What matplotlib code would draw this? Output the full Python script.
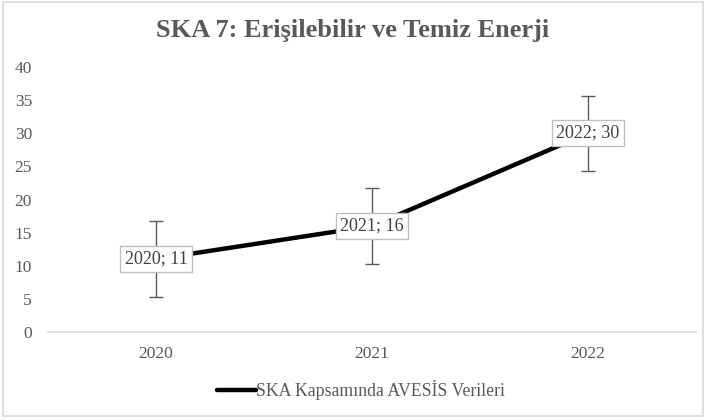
import matplotlib
matplotlib.use("Agg")
import matplotlib.pyplot as plt
from matplotlib.patches import Rectangle

years = ["2020", "2021", "2022"]
values = [11, 16, 30]
errors = [5.69, 5.69, 5.69]
yticks = [0, 5, 10, 15, 20, 25, 30, 35, 40]
title = "SKA 7: Erişilebilir ve Temiz Enerji"
series_name = "SKA Kapsamında AVESİS Verileri"

plt.rcParams['font.family'] = ['Liberation Serif', 'DejaVu Serif']
gray = '#595959'

fig = plt.figure(figsize=(7.06, 4.20), dpi=100)
ax = fig.add_axes([48/706, 88/420, 648/706, 265/420])

x = list(range(len(years)))
ax.errorbar(x, values, yerr=errors, fmt='none', ecolor='#5a5a5a', elinewidth=1.0,
            capsize=5, capthick=1.0, zorder=2)
ax.plot(x, values, color='black', lw=3.2, solid_capstyle='round', zorder=3,
        label=series_name)

for xi, yr, v in zip(x, years, values):
    ax.text(xi, v, f"{yr}; {v}", ha='center', va='center', fontsize=13, color='#404040',
            zorder=5,
            bbox=dict(boxstyle='square,pad=0.25', fc='white', ec='#bfbfbf', lw=1))

ax.set_xlim(-0.5, len(years) - 0.5)
ax.set_ylim(0, 40)
ax.set_xticks(x)
ax.set_xticklabels(years)
ax.set_yticks(yticks)
ax.tick_params(axis='both', length=0, labelsize=12.5, labelcolor=gray)
ax.tick_params(axis='y', pad=11.5)
ax.tick_params(axis='x', pad=10)
for s in ['top', 'right', 'left']:
    ax.spines[s].set_visible(False)
ax.spines['bottom'].set_color('#d9d9d9')
ax.spines['bottom'].set_linewidth(1.2)

fig.text(0.5, 1 - 37/420, title, ha='center', va='baseline', fontsize=19,
         fontweight='bold', color=gray)

leg = fig.legend(loc='center', bbox_to_anchor=(361/706, 1 - 390/420), frameon=False,
                 fontsize=12.8, handlelength=2.2, handletextpad=0.0, labelcolor=gray)

fig.patches.append(Rectangle((3/706, 4/420), 700/706, 414/420, transform=fig.transFigure,
                             fill=False, ec='#d9d9d9', lw=1.2))

fig.savefig("out.png", dpi=100, facecolor='white')
